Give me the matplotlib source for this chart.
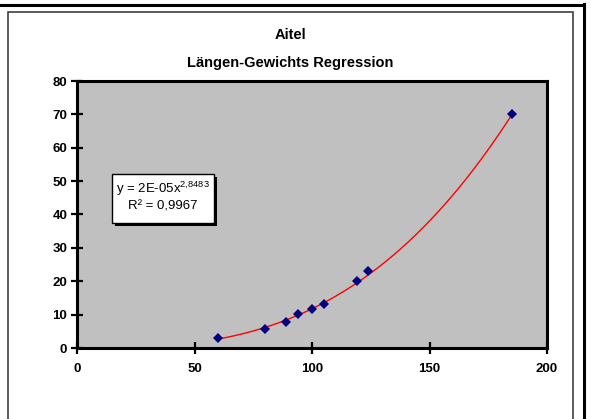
import numpy as np
import matplotlib
matplotlib.use("Agg")
import matplotlib.pyplot as plt
from matplotlib.patches import Rectangle
from matplotlib.lines import Line2D

plt.rcParams["font.family"] = ["Liberation Sans", "DejaVu Sans"]
plt.rcParams["mathtext.fontset"] = "custom"
plt.rcParams["mathtext.rm"] = "Liberation Sans"
plt.rcParams["mathtext.it"] = "Liberation Sans"

# Length (x) and weight (y) readings
laenge = [60, 80, 89, 94, 100, 105, 119, 124, 185]
gewicht = [2.9, 5.7, 7.7, 10.1, 11.8, 13.1, 20.0, 23.1, 70.0]
title_lines = ["Aitel", "Längen-Gewichts Regression"]
eq_text = "y = 2E-05x$^{2{,}8483}$"
r2_text = "R² = 0,9967"
x_ticks = [0, 50, 100, 150, 200]
y_ticks = [0, 10, 20, 30, 40, 50, 60, 70, 80]

W, H = 591, 419
fig = plt.figure(figsize=(W / 100, H / 100), dpi=100)


def fx(px):
    return px / W


def fy(py):
    return 1 - py / H


# outer sheet lines and chart-area frame
fig.add_artist(Line2D([0, fx(584)], [fy(5), fy(5)], color="black", lw=2.2))
fig.add_artist(Line2D([fx(584), fx(584)], [fy(4), 0], color="black", lw=2.2))
fig.add_artist(Rectangle((fx(7.5), fy(430)), fx(573) - fx(7.5), fy(12.5) - fy(430),
                         fill=False, edgecolor="#404040", lw=1.2))

ax = fig.add_axes([fx(77), fy(348), fx(547) - fx(77), fy(81) - fy(348)])
ax.set_facecolor("#C0C0C0")
for s in ax.spines.values():
    s.set_linewidth(2.2)
    s.set_color("black")

# power trendline fitted in log space
b, log_a = np.polyfit(np.log(laenge), np.log(gewicht), 1)
xs = np.linspace(min(laenge), max(laenge), 200)
ax.plot(xs, np.exp(log_a) * xs ** b, color="#FF0000", lw=1.0, zorder=2)
ax.plot(laenge, gewicht, linestyle="none", marker="D", markersize=5,
        color="#000080", markeredgewidth=0, zorder=3)

ax.set_xlim(0, 200)
ax.set_ylim(0, 80)
ax.set_xticks(x_ticks)
ax.set_yticks(y_ticks)
ax.tick_params(direction="inout", length=8, width=1.6, labelsize=9.5, pad=3)
for lab in ax.get_xticklabels() + ax.get_yticklabels():
    lab.set_fontweight("bold")
ax.tick_params(axis="x", pad=7)

fig.text(fx(290), fy(35), title_lines[0], ha="center", va="center",
         fontsize=10.5, fontweight="bold")
fig.text(fx(290), fy(63), title_lines[1], ha="center", va="center",
         fontsize=10.5, fontweight="bold")

# equation box with shadow
bx0, by0, bx1, by1 = 112, 174, 214, 223
fig.add_artist(Rectangle((fx(bx0 + 3), fy(by1 + 3)), fx(bx1) - fx(bx0), fy(by0) - fy(by1),
                         facecolor="black", edgecolor="black", lw=0))
fig.add_artist(Rectangle((fx(bx0), fy(by1)), fx(bx1) - fx(bx0), fy(by0) - fy(by1),
                         facecolor="white", edgecolor="black", lw=1.0))
fig.text(fx(163), fy(189), eq_text, ha="center", va="center", fontsize=9.5)
fig.text(fx(163), fy(206), r2_text, ha="center", va="center", fontsize=9.5)

fig.savefig("out.png", dpi=100)
